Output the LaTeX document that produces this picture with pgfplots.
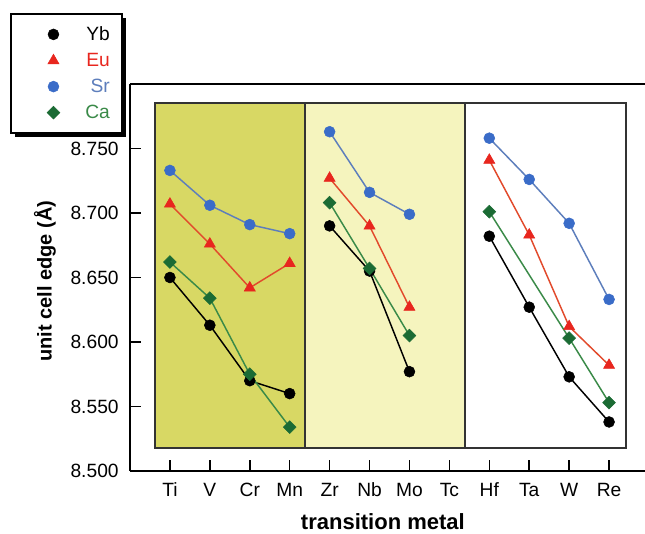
\documentclass[border=0pt]{standalone}
\usepackage{pgfplots}
\pgfplotsset{compat=1.18}
\usepackage{fontspec}
\setmainfont{Liberation Sans}
\usetikzlibrary{shadows}

\definecolor{ybc}{HTML}{000000}
\definecolor{euc}{HTML}{E8261E}
\definecolor{eul}{HTML}{E24A2C}
\definecolor{src}{HTML}{3A6CC8}
\definecolor{srl}{HTML}{5D7EBC}
\definecolor{cac}{HTML}{1B6B34}
\definecolor{cal}{HTML}{3A8A48}
\definecolor{bgA}{HTML}{D8D864}
\definecolor{bgB}{HTML}{F5F4BE}
\definecolor{boxc}{HTML}{333333}

\newcommand{\lgd}[2]{\makebox[18pt][r]{\textcolor{#1}{#2}}}

\begin{document}
\begin{tikzpicture}
\begin{axis}[
    name=ax,
    scale only axis,
    width=386.25pt, height=290.25pt,
    xmin=-1, xmax=11.9,
    ymin=8.5, ymax=8.8,
    axis x line*=bottom,
    axis y line*=left,
    axis line style={line width=1.1pt},
    tick align=inside,
    major tick length=8pt,
    tick style={line width=1.1pt, black},
    xtick={0,...,11},
    xticklabels={Ti,V,Cr,Mn,Zr,Nb,Mo,Tc,Hf,Ta,W,Re},
    ytick={8.5,8.55,8.6,8.65,8.7,8.75},
    yticklabels={8.500,8.550,8.600,8.650,8.700,8.750},
    tick label style={font=\fontsize{14.4}{17}\selectfont},
    xticklabel style={anchor=base, yshift=-19.5pt},
    yticklabel style={xshift=-5pt},
    xlabel={\textbf{transition metal}},
    ylabel={\textbf{unit cell edge (Å)}},
    xlabel style={font=\fontsize{16.5}{19}\selectfont,
        at={(axis description cs:0.491,-0.132)}, anchor=center},
    ylabel style={font=\fontsize{15}{18}\selectfont,
        at={(axis description cs:-0.165,0.49)}, anchor=center},
    unbounded coords=jump,
    legend image code/.code={%
        \node[draw=none, fill=none, opacity=0, inner sep=0pt, outer sep=0pt,
              minimum size=0pt] at (-25pt,0pt) {};
        \draw[#1,only marks] plot coordinates {(0cm,0cm)};},
    legend style={
        at={(-0.233,1.1835)}, anchor=north west,
        draw=black, line width=1.2pt, fill=white,
        general shadow={fill=black, shadow xshift=3pt, shadow yshift=-3pt},
        font=\fontsize{14.4}{17}\selectfont,
        inner xsep=7pt, inner ysep=7.5pt,
        row sep=4pt,
        /tikz/every odd column/.append style={column sep=17.5pt},
    },
]
% background regions
\draw[boxc, line width=1.4pt, fill=bgA] (axis cs:-0.38,8.518) rectangle (axis cs:3.38,8.785);
\draw[boxc, line width=1.4pt, fill=bgB] (axis cs:3.38,8.518) rectangle (axis cs:7.39,8.785);
\draw[boxc, line width=1.4pt, fill=white] (axis cs:7.39,8.518) rectangle (axis cs:11.42,8.785);
\draw[line width=1.1pt] (rel axis cs:0,1) -- (rel axis cs:1,1);

\addplot[ybc, line width=1.1pt, mark=*, mark size=4.1pt,
    mark options={fill=ybc, draw=ybc, line width=0.4pt}] coordinates {
    (0,8.650) (1,8.613) (2,8.570) (3,8.560) (3.5,nan)
    (4,8.690) (5,8.655) (6,8.577) (7,nan)
    (8,8.682) (9,8.627) (10,8.573) (11,8.538)
};
\addlegendentry{\lgd{ybc}{Yb}}
\addplot[eul, line width=1.1pt, mark=triangle*, mark size=4.8pt,
    mark options={fill=euc, draw=euc, line width=0.4pt}] coordinates {
    (0,8.707) (1,8.676) (2,8.642) (3,8.661) (3.5,nan)
    (4,8.727) (5,8.690) (6,8.627) (7,nan)
    (8,8.741) (9,8.683) (10,8.612) (11,8.582)
};
\addlegendentry{\lgd{euc}{Eu}}
\addplot[srl, line width=1.1pt, mark=*, mark size=4.1pt,
    mark options={fill=src, draw=src, line width=0.4pt}] coordinates {
    (0,8.733) (1,8.706) (2,8.691) (3,8.684) (3.5,nan)
    (4,8.763) (5,8.716) (6,8.699) (7,nan)
    (8,8.758) (9,8.726) (10,8.692) (11,8.633)
};
\addlegendentry{\lgd{srl}{Sr}}
\addplot[cal, line width=1.1pt, mark=square*, mark size=3.4pt,
    mark options={fill=cac, draw=cac, line width=0.4pt, rotate=45}] coordinates {
    (0,8.662) (1,8.634) (2,8.575) (3,8.534) (3.5,nan)
    (4,8.708) (5,8.657) (6,8.605) (7,nan)
    (8,8.701) (10,8.603) (11,8.553)
};
\addlegendentry{\lgd{cal}{Ca}}
\end{axis}
\pgfresetboundingbox
\path[use as bounding box] ([shift={(-97.5pt,-47.25pt)}]ax.south west)
    rectangle ([shift={(386.25pt,353.25pt)}]ax.south west);
\end{tikzpicture}
\end{document}
